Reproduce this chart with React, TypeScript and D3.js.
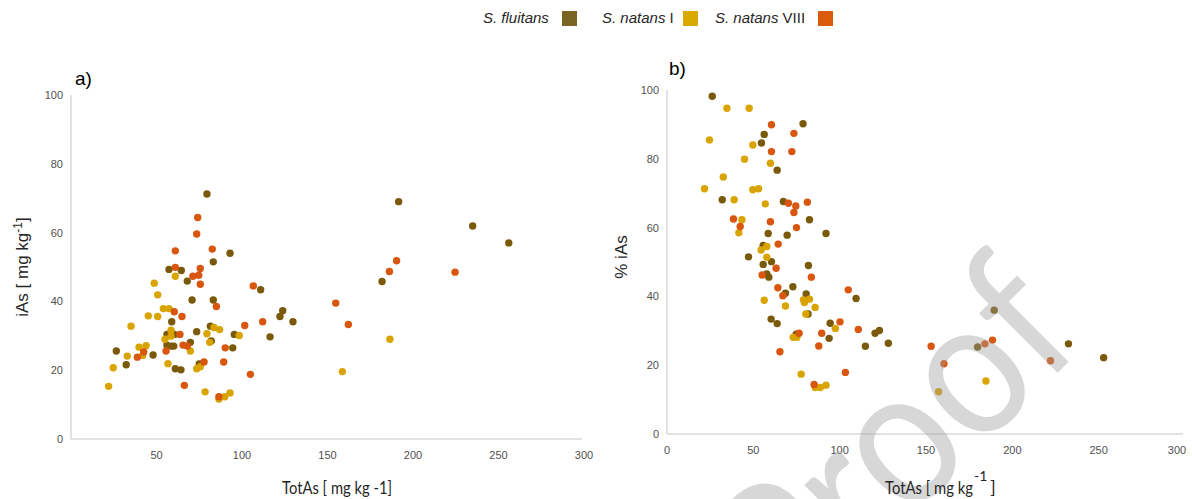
import { useEffect, useRef } from 'react';
import * as d3 from 'd3';

type Pt = [number, number];

// panel a) TotAs vs iAs
const fluitansA: Pt[] = [
  [79.5, 71.2], [93.0, 54.0], [83.2, 51.5], [57.3, 49.3], [64.5, 49.0], [68.0, 45.9], [110.9, 43.4],
  [70.8, 40.4], [83.2, 40.4], [58.9, 34.1], [81.5, 32.8], [73.5, 31.2], [56.1, 30.4], [60.4, 30.4],
  [95.5, 30.4], [69.8, 28.1], [82.0, 28.5], [56.1, 27.3], [58.5, 27.0], [60.1, 27.0], [94.6, 26.5],
  [26.5, 25.6], [48.0, 24.4], [32.3, 21.6], [61.0, 20.4], [64.3, 20.1], [75.0, 21.8], [191.6, 69.0],
  [234.9, 61.9], [256.0, 57.0], [181.9, 45.8], [123.8, 37.3], [122.2, 35.6], [129.8, 34.1], [116.4, 29.7],
];
const natansIA: Pt[] = [
  [61.0, 47.3], [48.7, 45.3], [50.7, 41.9], [54.0, 37.9], [57.3, 37.9], [45.2, 35.8], [50.7, 35.6],
  [35.1, 32.8], [83.6, 32.4], [86.9, 31.8], [79.5, 30.6], [58.5, 31.6], [58.5, 29.9], [98.4, 30.1],
  [55.0, 29.0], [81.1, 28.1], [69.8, 25.6], [39.8, 26.7], [43.9, 27.1], [41.9, 24.3], [32.9, 24.1],
  [24.7, 20.7], [56.7, 21.9], [73.5, 20.4], [75.6, 21.0], [22.0, 15.3], [78.4, 13.7], [86.5, 11.6],
  [89.9, 12.3], [93.0, 13.4], [158.7, 19.6], [186.5, 29.0],
];
const natansVIIIA: Pt[] = [
  [74.1, 64.4], [73.5, 59.6], [61.0, 54.7], [82.6, 55.2], [61.0, 49.9], [75.6, 49.6], [71.3, 47.3],
  [74.7, 47.6], [75.6, 45.0], [106.6, 44.5], [85.0, 38.5], [60.4, 37.0], [64.9, 35.6], [101.6, 33.0],
  [112.1, 34.1], [63.7, 30.4], [65.5, 27.3], [68.0, 27.0], [55.6, 25.6], [90.2, 26.5], [42.5, 25.3],
  [38.8, 23.8], [77.8, 22.4], [89.3, 22.4], [104.9, 18.8], [66.3, 15.6], [86.5, 12.3], [190.4, 51.8],
  [186.2, 48.7], [224.6, 48.5], [154.8, 39.5], [162.2, 33.3],
];

// panel b) TotAs vs % iAs
const fluitansB: Pt[] = [
  [26.2, 98.2], [78.8, 90.2], [56.3, 87.1], [54.7, 84.6], [63.8, 76.7], [32.0, 68.1], [67.4, 67.6],
  [82.5, 62.3], [58.6, 58.3], [69.6, 57.8], [92.1, 58.3], [55.7, 54.8], [47.2, 51.5], [60.5, 50.1],
  [55.7, 49.3], [81.9, 49.0], [57.8, 46.5], [59.0, 45.6], [72.9, 42.8], [68.6, 40.9], [80.6, 40.7],
  [109.5, 39.4], [81.7, 34.9], [60.3, 33.4], [63.8, 32.1], [94.5, 32.2], [93.9, 27.8], [74.8, 29.0],
  [120.5, 29.3], [123.0, 30.1], [114.9, 25.5], [128.2, 26.4], [179.9, 25.3], [189.5, 36.0],
  [232.5, 26.2], [252.9, 22.2],
];
const natansIB: Pt[] = [
  [34.7, 94.7], [47.6, 94.7], [24.6, 85.5], [49.7, 84.0], [44.9, 79.9], [59.9, 78.7], [32.6, 74.7],
  [21.7, 71.3], [49.7, 71.0], [53.0, 71.3], [38.9, 68.1], [56.9, 66.9], [43.4, 62.3], [41.6, 58.5],
  [57.8, 54.5], [54.5, 53.5], [57.8, 51.4], [56.3, 38.9], [79.0, 39.0], [82.5, 39.2], [79.6, 38.2],
  [68.6, 37.2], [85.8, 36.8], [80.4, 34.9], [97.5, 30.7], [73.1, 28.1], [75.2, 28.1], [77.7, 17.4],
  [85.8, 13.5], [88.8, 13.5], [92.1, 14.2], [157.3, 12.3], [184.7, 15.4],
];
const natansVIIIB: Pt[] = [
  [60.5, 89.9], [73.5, 87.4], [60.5, 82.1], [72.3, 82.1], [70.3, 67.1], [74.6, 66.3], [73.5, 64.4],
  [81.3, 67.4], [38.5, 62.5], [42.4, 60.3], [59.9, 61.7], [75.0, 60.0], [64.4, 55.2], [63.2, 48.2],
  [55.1, 46.2], [83.6, 45.6], [64.2, 42.5], [67.1, 40.2], [105.0, 41.9], [100.2, 32.6], [110.8, 30.4],
  [89.6, 29.3], [76.5, 29.3], [87.9, 25.6], [65.4, 23.9], [103.3, 17.9], [85.2, 14.4], [153.0, 25.5],
  [160.4, 20.4], [184.1, 26.2], [188.5, 27.3], [222.1, 21.3],
];

const xTicksA = [50, 100, 150, 200, 250, 300];
const xTicksB = [0, 50, 100, 150, 200, 250, 300];
const yTicks = [0, 20, 40, 60, 80, 100];

const COLORS = { fluitans: '#7a5a0a', natansI: '#d9a400', natansVIII: '#d9560f' };
const LEGEND_COLORS = { fluitans: '#7b6322', natansI: '#d9a900', natansVIII: '#d95b0b' };

const W = 1192;
const H = 499;
const SANS = 'Liberation Sans, Arial, sans-serif';
const TITLE_FONT = 'Lato, sans-serif';

export default function App() {
  const plotRef = useRef<SVGGElement | null>(null);

  useEffect(() => {
    if (!plotRef.current) return;
    const root = d3.select(plotRef.current);
    root.selectAll('*').remove();

    const drawPanel = (
      opts: { x0: number; x1: number; y0: number; y1: number; xTicks: number[] },
      series: { data: Pt[]; color: string }[],
    ) => {
      const x = d3.scaleLinear().domain([0, 300]).range([opts.x0, opts.x1]);
      const y = d3.scaleLinear().domain([0, 100]).range([opts.y0, opts.y1]);
      const g = root.append('g');

      // axis lines
      g.append('line')
        .attr('x1', opts.x0).attr('x2', opts.x0)
        .attr('y1', opts.y1).attr('y2', opts.y0)
        .attr('stroke', '#d9d9d9').attr('stroke-width', 1.5);
      g.append('line')
        .attr('x1', opts.x0).attr('x2', opts.x1 - 2)
        .attr('y1', opts.y0).attr('y2', opts.y0)
        .attr('stroke', '#d9d9d9').attr('stroke-width', 1.5);

      g.selectAll('.ytick')
        .data(yTicks)
        .join('text')
        .attr('x', opts.x0 - 8)
        .attr('y', d => y(d) + 4)
        .attr('text-anchor', 'end')
        .attr('font-family', SANS)
        .attr('font-size', '11px')
        .attr('fill', '#505050')
        .text(d => d);

      g.selectAll('.xtick')
        .data(opts.xTicks)
        .join('text')
        .attr('x', d => Math.min(x(d), W - 15))
        .attr('y', opts.y0 + 20)
        .attr('text-anchor', 'middle')
        .attr('font-family', SANS)
        .attr('font-size', '11px')
        .attr('fill', '#505050')
        .text(d => d);

      series.forEach(s => {
        g.append('g')
          .selectAll('circle')
          .data(s.data)
          .join('circle')
          .attr('cx', d => x(d[0]))
          .attr('cy', d => y(d[1]))
          .attr('r', 3.7)
          .attr('fill', s.color);
      });
    };

    drawPanel({ x0: 71, x1: 584, y0: 439, y1: 95, xTicks: xTicksA }, [
      { data: fluitansA, color: COLORS.fluitans },
      { data: natansIA, color: COLORS.natansI },
      { data: natansVIIIA, color: COLORS.natansVIII },
    ]);
    drawPanel({ x0: 667, x1: 1185, y0: 434, y1: 90, xTicks: xTicksB }, [
      { data: fluitansB, color: COLORS.fluitans },
      { data: natansIB, color: COLORS.natansI },
      { data: natansVIIIB, color: COLORS.natansVIII },
    ]);

    // "Proof" watermark: pivot on the second "o", rotate, squeeze a little
    const wmSize = 196;
    const wm = root.append('text')
      .attr('font-family', TITLE_FONT)
      .attr('font-size', `${wmSize}px`)
      .attr('fill', '#9e9e9e')
      .attr('opacity', 0.4)
      .text('Proof');
    const node = wm.node() as SVGTextElement;
    let cx = wmSize * 1.9;
    try {
      const ext = node.getExtentOfChar(3);
      cx = ext.x + ext.width / 2;
    } catch (e) { /* keep estimate */ }
    const cy = -0.253 * wmSize;
    wm.attr('transform', `translate(976,384) rotate(-45) scale(0.88,1) translate(${-cx},${-cy})`);
  }, []);

  return (
    <div style={{ position: 'absolute', left: 0, top: 0, width: W, height: H, background: '#fff' }}>
      <svg width={W} height={H} style={{ position: 'absolute', left: 0, top: 0 }}>
        {/* legend */}
        <g fontFamily={SANS} fontSize={15} fill="#262626">
          <text x={483} y={23} fontStyle="italic">S. fluitans</text>
          <rect x={562} y={11} width={15} height={15} fill={LEGEND_COLORS.fluitans} />
          <text x={602} y={23}><tspan fontStyle="italic">S. natans</tspan> I</text>
          <rect x={683} y={11} width={15} height={15} fill={LEGEND_COLORS.natansI} />
          <text x={715} y={23}><tspan fontStyle="italic">S. natans</tspan> VIII</text>
          <rect x={818} y={11} width={15} height={15} fill={LEGEND_COLORS.natansVIII} />
        </g>

        {/* panel labels */}
        <text x={75} y={85} fontFamily={SANS} fontSize={19} fill="#000">a)</text>
        <text x={669} y={75} fontFamily={SANS} fontSize={19} fill="#000">b)</text>

        {/* y titles */}
        <text transform="translate(28,267) rotate(-90)" textAnchor="middle" fontFamily={SANS} fontSize={17} fill="#262626">
          iAs [ mg kg<tspan dy={-6} fontSize={12}>-1</tspan><tspan dy={6}>]</tspan>
        </text>
        <text transform="translate(627,257) rotate(-90)" textAnchor="middle" fontFamily={SANS} fontSize={17} fill="#262626">
          % iAs
        </text>

        <g ref={plotRef} />

        {/* x titles */}
        <text x={282} y={494} fontFamily={TITLE_FONT} fontSize={18} fill="#262626" textLength={110} lengthAdjust="spacingAndGlyphs">
          TotAs [ mg kg  -1]
        </text>
        <text x={885} y={494} fontFamily={TITLE_FONT} fontSize={18} fill="#262626">
          <tspan textLength={88} lengthAdjust="spacingAndGlyphs">TotAs [ mg kg</tspan>
          <tspan dx={1} dy={-13} fontSize={14}>-1</tspan>
          <tspan dx={3} dy={13}>]</tspan>
        </text>
      </svg>
    </div>
  );
}
